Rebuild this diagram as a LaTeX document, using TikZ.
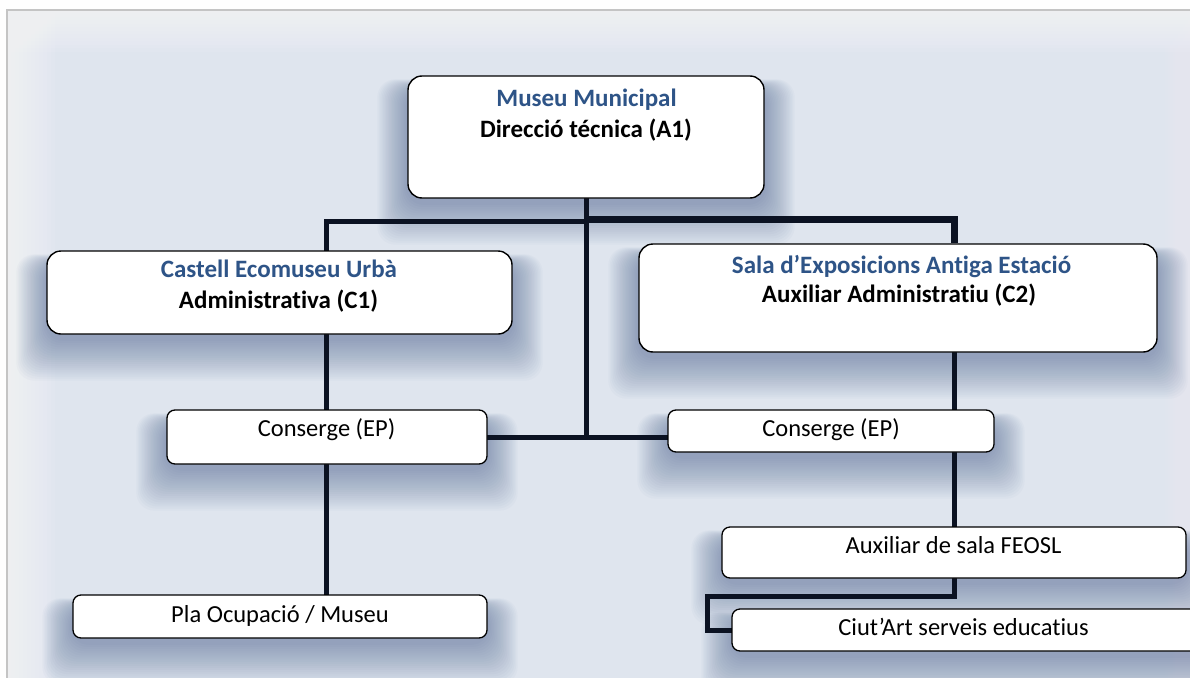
\documentclass[tikz,border=0pt]{standalone}
\usepackage{fontspec}
\setmainfont{Carlito}[Ligatures=CommonOff]
\usetikzlibrary{calc}
\definecolor{bluet}{HTML}{2E5487}
\definecolor{linec}{HTML}{0B1222}
\definecolor{bgc}{HTML}{DFE5EE}
\definecolor{bglight}{HTML}{F7F8FA}
\definecolor{shadowc}{HTML}{3F5A88}
\definecolor{framec}{HTML}{C4C4C4}
\pgfdeclarelayer{bgl}\pgfdeclarelayer{shl}\pgfsetlayers{bgl,shl,main}
\newcommand\boxshadow[1]{%
  \foreach \k in {1,...,20}{%
    \fill[shadowc, opacity=0.028, rounded corners=18pt]
      ([xshift=-\k*1.5pt, yshift=-4pt-\k*2.1pt]#1.south west) rectangle
      ([xshift=\k*1.5pt, yshift=-14pt+\k*0.5pt]#1.north east);}}
\begin{document}
\begin{tikzpicture}[x=1pt,y=-1pt,
  bigbox/.style={draw=black, line width=1.4pt, fill=white, rounded corners=14pt, inner sep=0pt},
  smallbox/.style={draw=black, line width=1.3pt, fill=white, rounded corners=8pt, inner sep=0pt},
  title/.style={anchor=base, inner sep=0pt, text=bluet, font=\bfseries\fontsize{25}{30}\selectfont},
  role/.style={anchor=base, inner sep=0pt, text=black, font=\bfseries\fontsize{25}{30}\selectfont},
  plain/.style={anchor=base, inner sep=0pt, text=black, font=\fontsize{24.5}{30}\selectfont},
  conn/.style={draw=linec, line width=5pt, line cap=rect},
  connthick/.style={draw=linec, line width=7pt}]
\useasboundingbox (0,0) rectangle (1190,677);
% background
\begin{pgfonlayer}{bgl}
  \fill[white!97!bgc] (0,0) rectangle (1190,677);
  \fill[bgc] (7,10) rectangle (1195,680);
  \foreach \k in {1,...,12}{%
    \fill[bglight, opacity=0.1] (7,10) rectangle (1195,10+\k*3.5);
    \fill[bglight, opacity=0.1] (7,10) rectangle (7+\k*4,680);
    \fill[bglight, opacity=0.05] (1195-\k*2.5,10) rectangle (1195,680);}
  \draw[framec, line width=1.6pt] (7,680) -- (7,10) -- (1195,10);
\end{pgfonlayer}
% boxes
\node[bigbox, minimum width=356pt, minimum height=122pt] (top) at (586,137) {};
\node[bigbox, minimum width=465pt, minimum height=83pt] (castell) at (279.5,292.5) {};
\node[bigbox, minimum width=518pt, minimum height=108pt] (sala) at (898,298) {};
\node[smallbox, minimum width=320pt, minimum height=54pt] (conL) at (327,437) {};
\node[smallbox, minimum width=326pt, minimum height=42pt] (conR) at (831,431) {};
\node[smallbox, minimum width=464pt, minimum height=51pt] (aux) at (954,552.5) {};
\node[smallbox, minimum width=476pt, minimum height=42pt] (ciut) at (970,630) {};
\node[smallbox, minimum width=414pt, minimum height=43pt] (pla) at (280,616.5) {};
% shadows
\begin{pgfonlayer}{shl}
  \boxshadow{top}\boxshadow{castell}\boxshadow{sala}\boxshadow{conL}
  \boxshadow{conR}\boxshadow{aux}\boxshadow{ciut}\boxshadow{pla}
\end{pgfonlayer}
% texts
\node[title] (topA) at (586.5,106) {Museu Municipal};
\node[role]  (topB) at (586,137) {Direcció técnica (A1)};
\node[title] (castA) at (279,277) {Castell Ecomuseu Urbà};
\node[role]  (castB) at (278.5,308) {Administrativa (C1)};
\node[title] (salaA) at (901.5,273) {Sala d’Exposicions Antiga Estació};
\node[role]  (salaB) at (899,302) {Auxiliar Administratiu (C2)};
\node[plain] (conLt) at (326.5,436) {Conserge (EP)};
\node[plain] (conRt) at (831,436) {Conserge (EP)};
\node[plain] (auxt) at (953.5,553) {Auxiliar de sala FEOSL};
\node[plain] (ciutt) at (963.5,635) {Ciut’Art serveis educatius};
\node[plain] (plat) at (280,622) {Pla Ocupació / Museu};
% connectors
\coordinate (colL) at (326,221);
\coordinate (colR) at (954,219);
\coordinate (turn) at (707,596);
\begin{pgfonlayer}{shl}
  \draw[conn] (colL |- castell.north) -- (colL) -- (top.south |- colL);
  \draw[connthick] (top.south |- colR) -- (colR) -- (colR |- sala.north);
  \draw[conn] (top.south) -- (top.south |- conL.east);
  \draw[conn] (conL.east) -- (conL.east -| conR.west);
  \draw[conn] (colL |- castell.south) -- (colL |- conL.north);
  \draw[conn] (colL |- conL.south) -- (colL |- pla.north);
  \draw[conn] (colR |- sala.south) -- (colR |- conR.north);
  \draw[conn] (colR |- conR.south) -- (colR |- aux.north);
  \draw[conn] (aux.south) -- (aux.south |- turn) -- (turn) -- (turn |- ciut.west) -- (ciut.west);
\end{pgfonlayer}
\end{tikzpicture}
\end{document}
